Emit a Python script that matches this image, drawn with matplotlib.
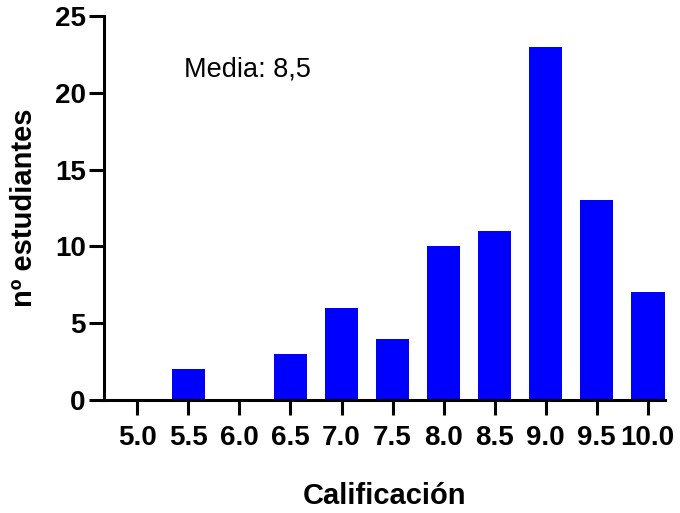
import matplotlib
matplotlib.use("Agg")
import matplotlib.pyplot as plt
import numpy as np

# Calificación -> nº estudiantes
grades = [5.0, 5.5, 6.0, 6.5, 7.0, 7.5, 8.0, 8.5, 9.0, 9.5, 10.0]
counts = [0, 2, 0, 3, 6, 4, 10, 11, 23, 13, 7]
tick_labels = [f"{g:.1f}" for g in grades]
y_ticks = [0, 5, 10, 15, 20, 25]

plt.rcParams["font.family"] = ["Liberation Sans", "DejaVu Sans"]

fig = plt.figure(figsize=(6.8, 5.13), dpi=100)
ax = fig.add_axes([0.1525, 0.2203, 0.8255, 0.7485])

ax.bar(grades, counts, width=0.33, color="#0000ff", edgecolor="none")

ax.set_xlim(4.67, 10.17)
ax.set_ylim(0, 25)
ax.set_xticks(grades)
ax.set_xticklabels(tick_labels, fontsize=20, fontweight="bold")
ax.set_yticks(y_ticks)
ax.set_yticklabels([str(v) for v in y_ticks], fontsize=20, fontweight="bold")

for s in ("top", "right"):
    ax.spines[s].set_visible(False)
for s in ("left", "bottom"):
    ax.spines[s].set_linewidth(2.2)
ax.tick_params(axis="x", length=11, width=2.2, pad=7)
ax.tick_params(axis="y", length=11, width=2.2, pad=2)

ax.set_xlabel("Calificación", fontsize=21, fontweight="bold", labelpad=22)
ax.set_ylabel("nº estudiantes", fontsize=21, fontweight="bold", labelpad=12)

ax.text(5.46, 21.5, "Media: 8,5", fontsize=19.5, va="center")

fig.savefig("out.png", dpi=100)
